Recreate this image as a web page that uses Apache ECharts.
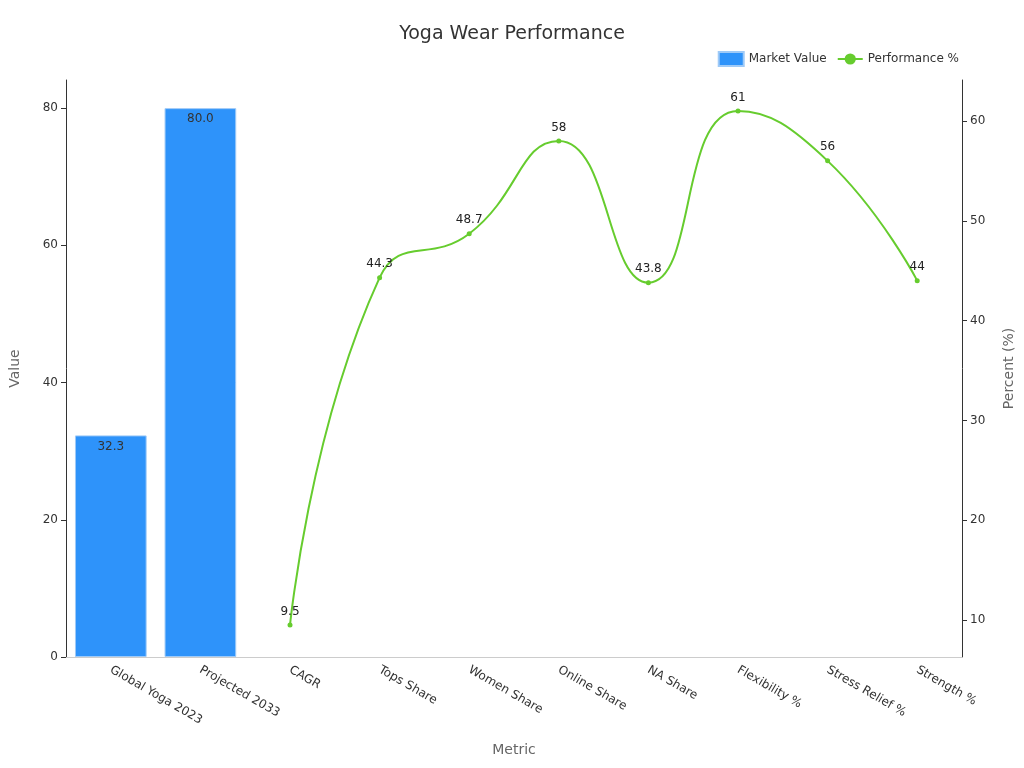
<!DOCTYPE html>
<html>
<head>
<meta charset="utf-8">
<script src="https://cdn.jsdelivr.net/npm/echarts@6/dist/echarts.min.js"></script>
<style>html,body{margin:0;padding:0;background:#fff}#chart{width:1024px;height:768px}</style>
</head>
<body>
<div id="chart"></div>
<script>
const categories = ['Global Yoga 2023', 'Projected 2033', 'CAGR', 'Tops Share', 'Women Share',
  'Online Share', 'NA Share', 'Flexibility %', 'Stress Relief %', 'Strength %'];
const marketValue = [32.3, 80.0, null, null, null, null, null, null, null, null];
const performance = [null, null, 9.5, 44.3, 48.7, 58, 43.8, 61, 56, 44];

var chart = echarts.init(document.getElementById('chart'), null, { renderer: 'canvas' });
var font = 'DejaVu Sans';
var option = {
  textStyle: { fontFamily: font },
  title: {
    text: 'Yoga Wear Performance', left: 'center', top: 20,
    textStyle: { fontSize: 19, fontWeight: 'normal', color: '#333', fontFamily: font }
  },
  legend: {
    top: 46, right: 60, itemGap: 10,
    textStyle: { fontSize: 12, color: '#333' },
    data: [{ name: 'Market Value', icon: 'rect' }, 'Performance %']
  },
  grid: { left: 60, right: 61, top: 80, bottom: 111, containLabel: false },
  xAxis: {
    type: 'category', data: categories,
    name: 'Metric', nameLocation: 'middle', nameGap: 86,
    nameTextStyle: { fontSize: 14, color: '#666' },
    axisLine: { lineStyle: { color: '#ccc' } },
    axisTick: { alignWithLabel: true, lineStyle: { color: '#999' } },
    axisLabel: { rotate: -30, color: '#333', fontSize: 12, interval: 0, margin: 12 }
  },
  yAxis: [
    {
      type: 'value', min: 0, max: 84.1,
      name: 'Value', nameLocation: 'middle', nameGap: 44,
      nameTextStyle: { fontSize: 14, color: '#666' },
      axisLine: { show: true, lineStyle: { color: '#333' } },
      axisTick: { show: true },
      axisLabel: { showMaxLabel: false, color: '#333', fontSize: 12,
        formatter: v => (v % 10 === 0 ? v : '') },
      splitLine: { show: false }
    },
    {
      type: 'value', min: 6.3, max: 64.1,
      name: 'Percent (%)', nameLocation: 'middle', nameGap: 40,
      nameTextStyle: { fontSize: 14, color: '#666' },
      axisLine: { show: true, lineStyle: { color: '#333' } },
      axisTick: { show: true },
      axisLabel: { showMinLabel: false, showMaxLabel: false, color: '#333', fontSize: 12,
        formatter: v => (Math.abs(v % 10) < 1e-6 ? v : '') },
      splitLine: { show: false }
    }
  ],
  series: [
    {
      name: 'Market Value', type: 'bar', yAxisIndex: 0, data: marketValue,
      barWidth: '80%',
      itemStyle: { color: '#2e93fa', borderColor: '#9fcaf7', borderWidth: 1 },
      label: { show: true, position: 'insideTop', color: '#333', fontSize: 12,
        formatter: p => p.value.toFixed(1) }
    },
    {
      name: 'Performance %', type: 'line', yAxisIndex: 1, data: performance,
      smooth: true, symbol: 'circle', symbolSize: 5,
      itemStyle: { color: '#66cc2e' }, lineStyle: { color: '#66cc2e', width: 2 },
      label: { show: true, position: 'top', color: '#222', fontSize: 12 }
    }
  ]
};
chart.setOption(option);
</script>
</body>
</html>
